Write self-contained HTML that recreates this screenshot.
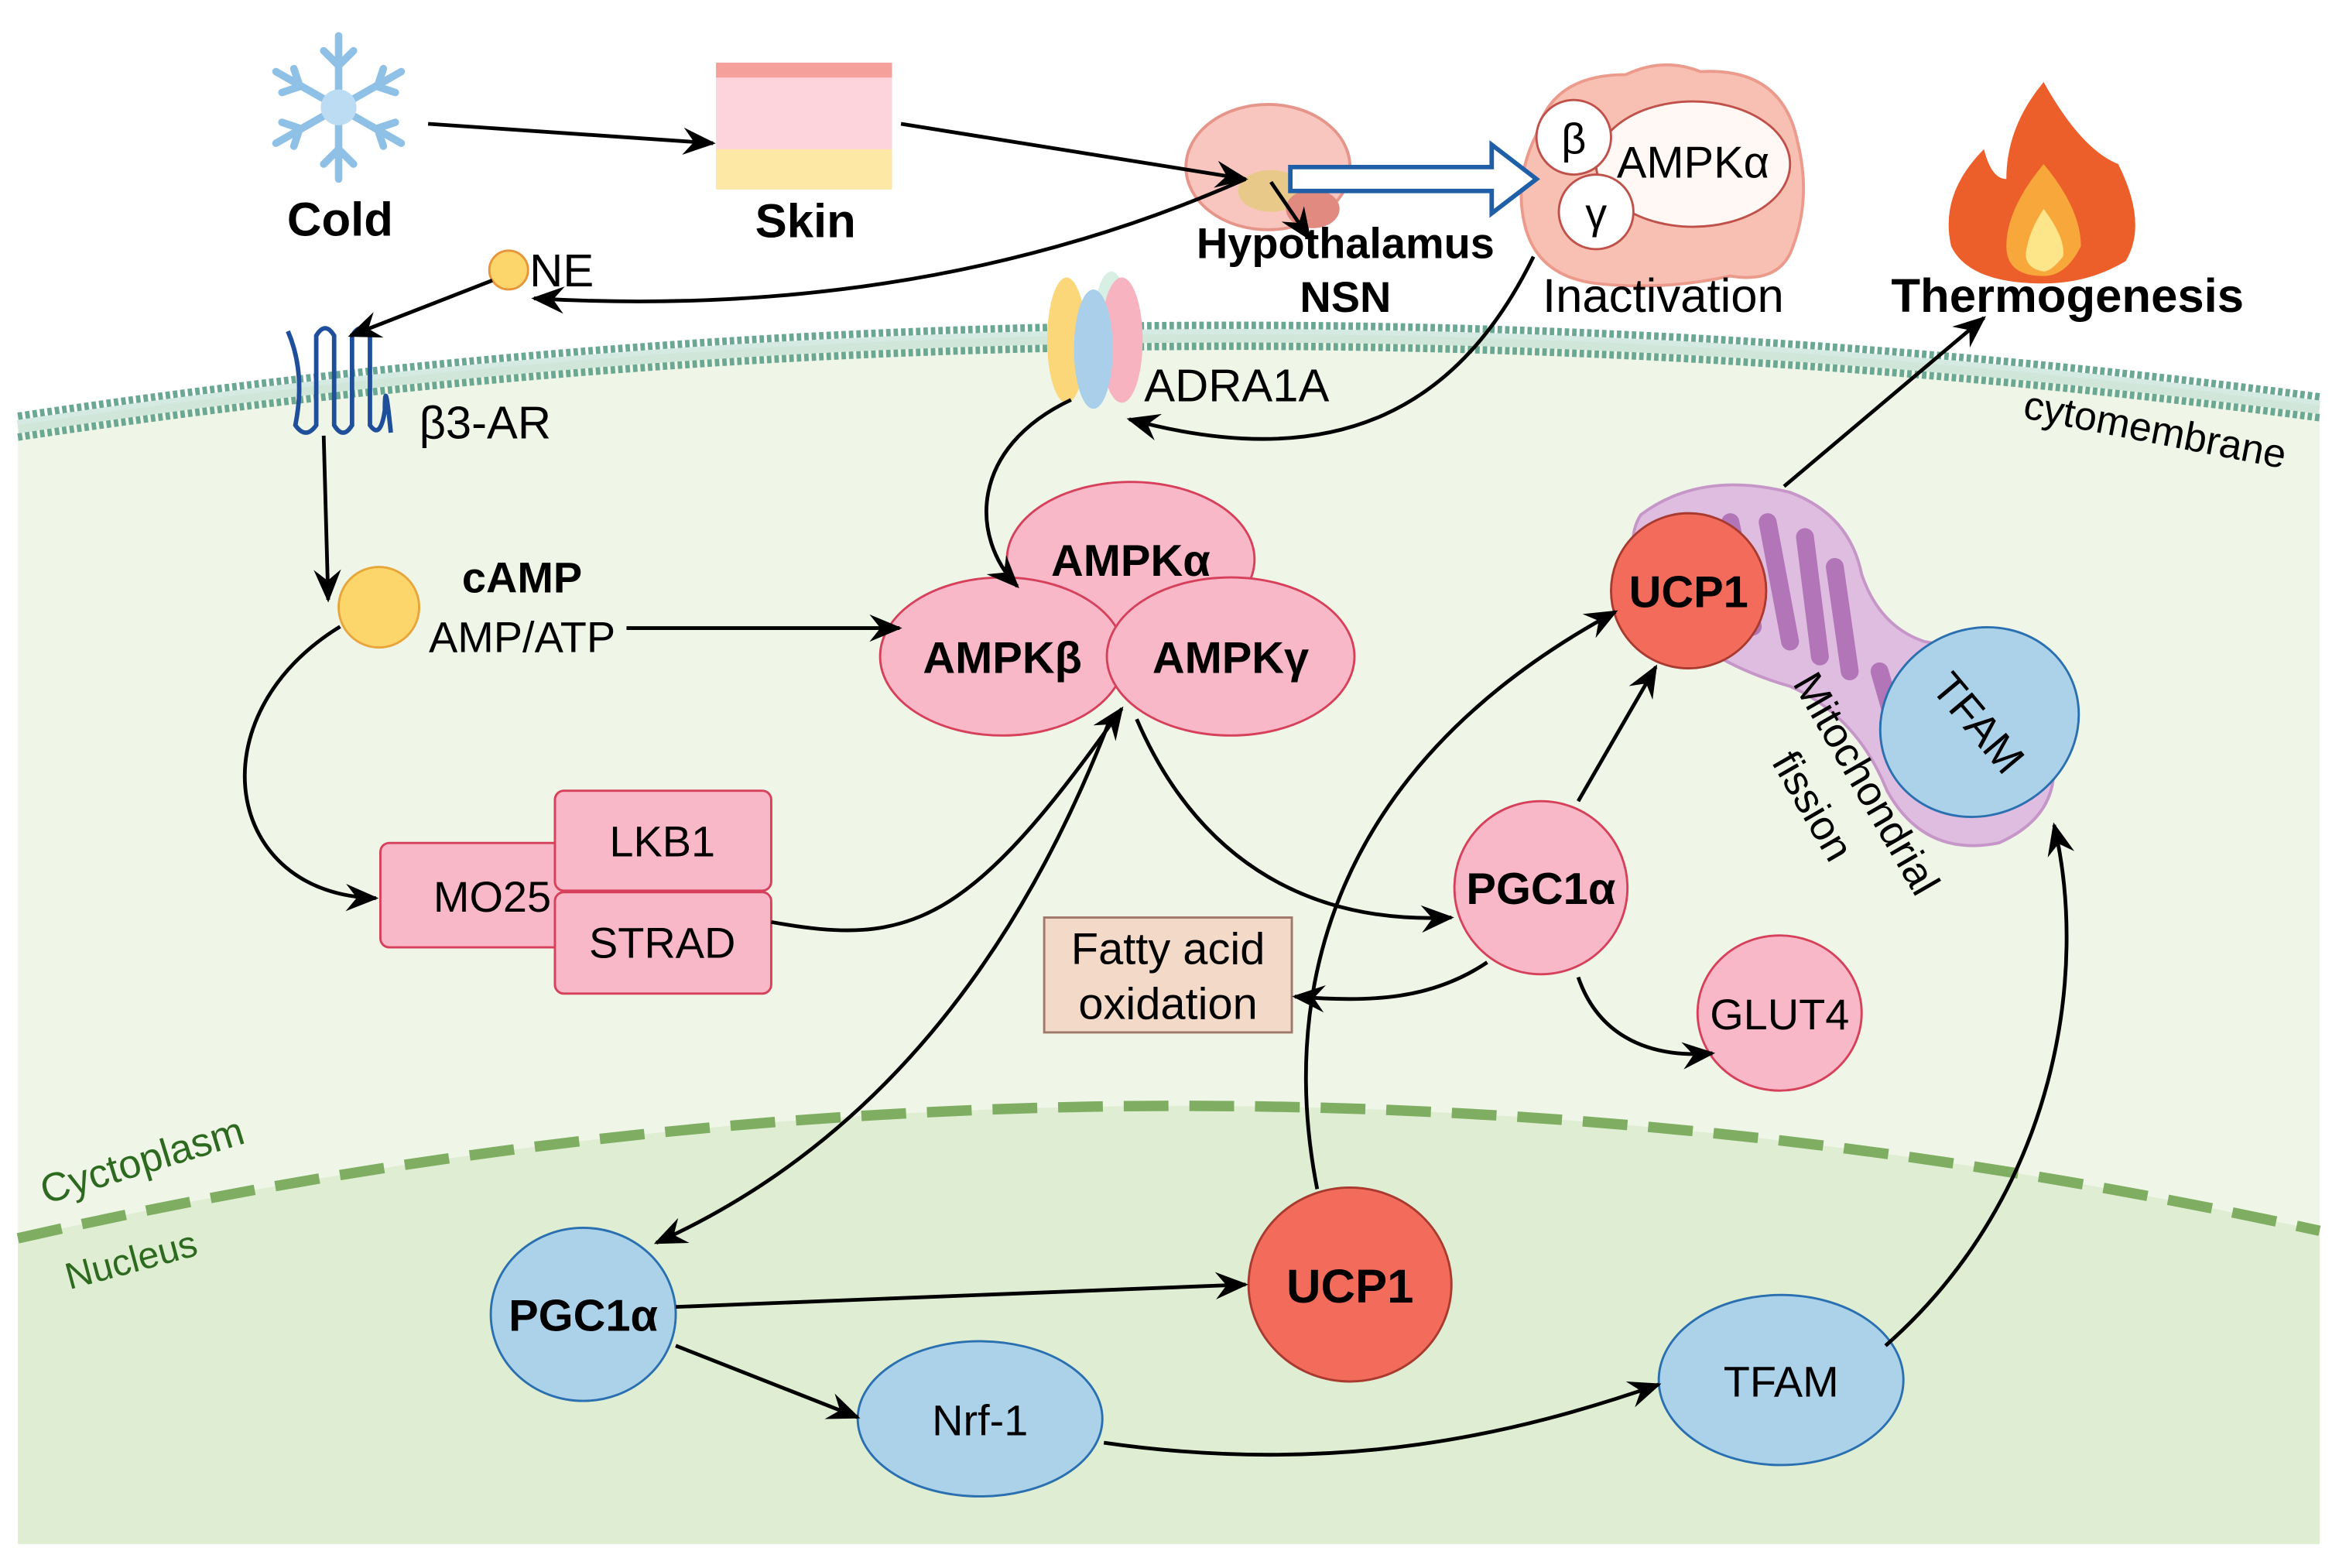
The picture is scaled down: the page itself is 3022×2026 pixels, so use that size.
<!DOCTYPE html>
<html><head><meta charset="utf-8"><style>
html,body{margin:0;padding:0;background:#fff;}
svg{display:block;}
text{font-family:"Liberation Sans",Arial,sans-serif;}
</style></head><body>
<svg width="3022" height="2026" viewBox="0 0 1568 1051" preserveAspectRatio="none" xmlns="http://www.w3.org/2000/svg">
<defs>
<marker id="a" viewBox="0 0 12 12" refX="11" refY="6" markerWidth="22" markerHeight="22" orient="auto" markerUnits="userSpaceOnUse">
<path d="M0,1 L12,6 L0,11 L4,6 z" fill="#000"/></marker>
</defs>
<rect width="1568" height="1051" fill="#fff"/>
<path d="M12,285 Q780,170 1555,272 L1555,1035 L12,1035 Z" fill="#eff6e8"/>
<path d="M12,830 Q780,655 1555,825 L1555,1035 L12,1035 Z" fill="#dfeed2"/>
<path d="M12,830 Q780,655 1555,825" fill="none" stroke="#7fae63" stroke-width="7" stroke-dasharray="30,14"/>
<path d="M12,279 Q780,164 1555,266" fill="none" stroke="#6aa893" stroke-width="5" stroke-dasharray="3,2"/>
<path d="M12,293 Q780,178 1555,280" fill="none" stroke="#6aa893" stroke-width="5" stroke-dasharray="3,2"/>
<path d="M12,286 Q780,171 1555,273" fill="none" stroke="#b9dccf" stroke-width="9" opacity="0.6"/>
<g transform="translate(227,72)" stroke="#8fc0e6" stroke-width="5" stroke-linecap="round" fill="none">
<line x1="0" y1="-48" x2="0" y2="48"/><line x1="-42" y1="-24" x2="42" y2="24"/><line x1="-42" y1="24" x2="42" y2="-24"/>
<path d="M-10,-38 L0,-28 L10,-38 M-10,38 L0,28 L10,38 M-38,-10 L-26,-14 L-30,-26 M38,10 L26,14 L30,26 M-38,10 L-26,14 L-30,26 M38,-10 L26,-14 L30,-26"/>
<circle r="12" fill="#bcdcf3" stroke="none"/>
</g>
<text x="228" y="158" font-size="32" font-weight="bold" text-anchor="middle">Cold</text>
<rect x="480" y="42" width="118" height="85" fill="#fdd3dc"/>
<rect x="480" y="42" width="118" height="10" fill="#f6a09b"/>
<rect x="480" y="100" width="118" height="27" fill="#fde8a6"/>
<text x="540" y="159" font-size="32" font-weight="bold" text-anchor="middle">Skin</text>
<ellipse cx="850" cy="112" rx="55" ry="42" fill="#f8c6bf" stroke="#e6958a" stroke-width="2"/>
<ellipse cx="852" cy="128" rx="22" ry="14" fill="#e9c98a"/>
<ellipse cx="880" cy="140" rx="18" ry="13" fill="#e08a80"/>
<path d="M1030,90 Q1040,50 1090,50 Q1115,38 1140,48 Q1195,45 1205,95 Q1215,135 1200,170 Q1190,190 1160,185 Q1115,195 1070,190 Q1030,185 1022,150 Q1015,120 1030,90 Z" fill="#f8c0b3" stroke="#eb9a8c" stroke-width="2"/>
<ellipse cx="1135" cy="110" rx="65" ry="42" fill="#fff8f4" stroke="#c0504a" stroke-width="1.5"/>
<circle cx="1055" cy="92" r="25" fill="#fff" stroke="#c0504a" stroke-width="1.5"/>
<circle cx="1070" cy="142" r="25" fill="#fff" stroke="#c0504a" stroke-width="1.5"/>
<text x="1055" y="103" font-size="29" text-anchor="middle">β</text>
<text x="1070" y="153" font-size="29" text-anchor="middle">γ</text>
<text x="1135" y="119" font-size="30" text-anchor="middle">AMPKα</text>
<path d="M865,112 L1000,112 L1000,97 L1030,120 L1000,143 L1000,128 L865,128 Z" fill="#fff" stroke="#1f5fa8" stroke-width="3"/>
<text x="902" y="173" font-size="29" font-weight="bold" text-anchor="middle">Hypothalamus</text>
<text x="902" y="209" font-size="29" font-weight="bold" text-anchor="middle">NSN</text>
<text x="1115" y="209" font-size="32" text-anchor="middle">Inactivation</text>
<path d="M1370,55 Q1395,100 1420,110 Q1440,150 1425,175 Q1400,190 1370,190 Q1320,190 1308,165 Q1300,130 1330,100 Q1335,120 1345,120 Q1345,85 1370,55 Z" fill="#ec5e2a"/>
<path d="M1370,110 Q1395,140 1395,165 Q1385,185 1370,185 Q1345,185 1345,165 Q1345,140 1370,110 Z" fill="#f8a73a"/>
<path d="M1370,140 Q1385,160 1383,172 Q1375,182 1370,182 Q1358,180 1358,170 Q1360,155 1370,140 Z" fill="#fde58a"/>
<text x="1386" y="209" font-size="32" font-weight="bold" text-anchor="middle">Thermogenesis</text>
<circle cx="341" cy="181" r="13" fill="#fcd66a" stroke="#e8943a" stroke-width="1.5"/>
<text x="355" y="192" font-size="31">NE</text>
<path d="M193,222 Q205,250 198,285 Q205,295 212,285 L212,225 Q218,215 224,225 L224,285 Q230,295 236,285 L236,225 Q242,215 248,225 L248,285 Q255,295 258,275 Q258,250 262,290" fill="none" stroke="#1f4f9a" stroke-width="3"/>
<text x="281" y="294" font-size="31">β3-AR</text>
<ellipse cx="745" cy="220" rx="12" ry="38" fill="#d8efe3"/>
<ellipse cx="715" cy="228" rx="13" ry="42" fill="#fbd77a"/>
<ellipse cx="752" cy="228" rx="14" ry="42" fill="#f7b3c0"/>
<ellipse cx="733" cy="234" rx="13" ry="40" fill="#a9cfea"/>
<text x="767" y="269" font-size="31">ADRA1A</text>
<text x="1443" y="297" font-size="27" text-anchor="middle" transform="rotate(11 1443 297)">cytomembrane</text>
<circle cx="254" cy="407" r="27" fill="#fcd66a" stroke="#e8a53a" stroke-width="1.5"/>
<text x="350" y="397" font-size="29" font-weight="bold" text-anchor="middle">cAMP</text>
<text x="350" y="437" font-size="29" text-anchor="middle">AMP/ATP</text>
<g fill="#f9b8c7" stroke="#d6405a" stroke-width="1.5">
<ellipse cx="758" cy="375" rx="83" ry="52"/>
<ellipse cx="672" cy="440" rx="82" ry="53"/>
<ellipse cx="825" cy="440" rx="83" ry="53"/>
</g>
<g font-size="30" font-weight="bold" text-anchor="middle">
<text x="758" y="386">AMPKα</text><text x="672" y="451">AMPKβ</text><text x="825" y="451">AMPKγ</text></g>
<g fill="#f9b8c7" stroke="#d6405a" stroke-width="1.5">
<rect x="255" y="565" width="125" height="70" rx="6"/>
<rect x="372" y="530" width="145" height="67" rx="6"/>
<rect x="372" y="598" width="145" height="68" rx="6"/>
</g>
<g font-size="29" text-anchor="middle"><text x="330" y="611">MO25</text><text x="444" y="574">LKB1</text><text x="444" y="642">STRAD</text></g>
<rect x="700" y="615" width="166" height="77" fill="#f3d9c8" stroke="#a0786a" stroke-width="1.5"/>
<text x="783" y="646" font-size="30" text-anchor="middle">Fatty acid</text>
<text x="783" y="683" font-size="30" text-anchor="middle">oxidation</text>
<path d="M1100,345 Q1140,315 1200,330 Q1240,345 1248,385 Q1260,420 1290,430 Q1350,440 1375,500 Q1385,545 1340,565 Q1290,575 1265,530 Q1245,480 1200,460 Q1130,440 1098,390 Q1090,360 1100,345 Z" fill="#dfbde0" stroke="#c596c7" stroke-width="2"/>
<path d="M1160,350 L1175,420 M1185,350 L1200,430 M1210,360 L1220,440 M1230,380 L1240,450 M1260,450 L1280,520 M1290,470 L1310,540" stroke="#b175b8" stroke-width="12" stroke-linecap="round"/>
<circle cx="1132" cy="396" r="52" fill="#f26b5b" stroke="#a83a30" stroke-width="1.5"/>
<text x="1132" y="407" font-size="30" font-weight="bold" text-anchor="middle">UCP1</text>
<ellipse cx="1327" cy="484" rx="68" ry="62" fill="#acd2ea" stroke="#2a6fb0" stroke-width="1.5" transform="rotate(-30 1327 484)"/>
<text x="1327" y="495" font-size="29" text-anchor="middle" transform="rotate(50 1327 484)">TFAM</text>
<text x="1243" y="530" font-size="28" text-anchor="middle" transform="rotate(60 1243 530)">Mitochondrial</text>
<text x="1207" y="545" font-size="28" text-anchor="middle" transform="rotate(60 1207 545)">fission</text>
<circle cx="1033" cy="595" r="58" fill="#f9b8c7" stroke="#d6405a" stroke-width="1.5"/>
<text x="1033" y="606" font-size="30" font-weight="bold" text-anchor="middle">PGC1α</text>
<ellipse cx="1193" cy="679" rx="55" ry="52" fill="#f9b8c7" stroke="#d6405a" stroke-width="1.5"/>
<text x="1193" y="690" font-size="29" text-anchor="middle">GLUT4</text>
<text x="95" y="787" font-size="27" fill="#2d6a1f" text-anchor="middle" transform="rotate(-17 95 777)">Cyctoplasm</text>
<text x="88" y="853" font-size="25" fill="#2d6a1f" text-anchor="middle" transform="rotate(-15 88 845)">Nucleus</text>
<ellipse cx="391" cy="881" rx="62" ry="58" fill="#acd2ea" stroke="#2a6fb0" stroke-width="1.5"/>
<text x="391" y="892" font-size="30" font-weight="bold" text-anchor="middle">PGC1α</text>
<ellipse cx="905" cy="861" rx="68" ry="65" fill="#f26b5b" stroke="#a83a30" stroke-width="1.5"/>
<text x="905" y="873" font-size="32" font-weight="bold" text-anchor="middle">UCP1</text>
<ellipse cx="657" cy="951" rx="82" ry="52" fill="#acd2ea" stroke="#2a6fb0" stroke-width="1.5"/>
<text x="657" y="962" font-size="29" text-anchor="middle">Nrf-1</text>
<ellipse cx="1194" cy="925" rx="82" ry="57" fill="#acd2ea" stroke="#2a6fb0" stroke-width="1.5"/>
<text x="1194" y="936" font-size="29" text-anchor="middle">TFAM</text>
<g fill="none" stroke="#000" stroke-width="2.5" marker-end="url(#a)">
<path d="M287,83 L478,96"/>
<path d="M604,83 L835,120"/>
<path d="M835,120 Q620,215 358,200"/>
<path d="M852,122 L878,160"/>
<path d="M330,188 L235,225"/>
<path d="M217,292 L220,402"/>
<path d="M228,420 C130,480 150,600 252,602"/>
<path d="M420,421 L603,421"/>
<path d="M517,618 C610,635 650,620 752,475"/>
<path d="M745,480 C680,650 580,770 440,833"/>
<path d="M718,268 C650,300 650,360 682,393"/>
<path d="M1028,172 C980,270 900,320 757,281"/>
<path d="M762,482 C800,570 870,620 973,615"/>
<path d="M997,645 C960,670 920,672 868,668"/>
<path d="M1058,655 C1070,690 1100,710 1148,706"/>
<path d="M1058,537 L1110,447"/>
<path d="M883,797 C860,680 880,520 1083,410"/>
<path d="M1196,326 L1330,213"/>
<path d="M453,876 L835,861"/>
<path d="M453,902 L575,950"/>
<path d="M740,967 C900,990 1020,960 1112,928"/>
<path d="M1264,902 C1380,800 1400,650 1377,553"/>
</g>
</svg>
</body></html>
